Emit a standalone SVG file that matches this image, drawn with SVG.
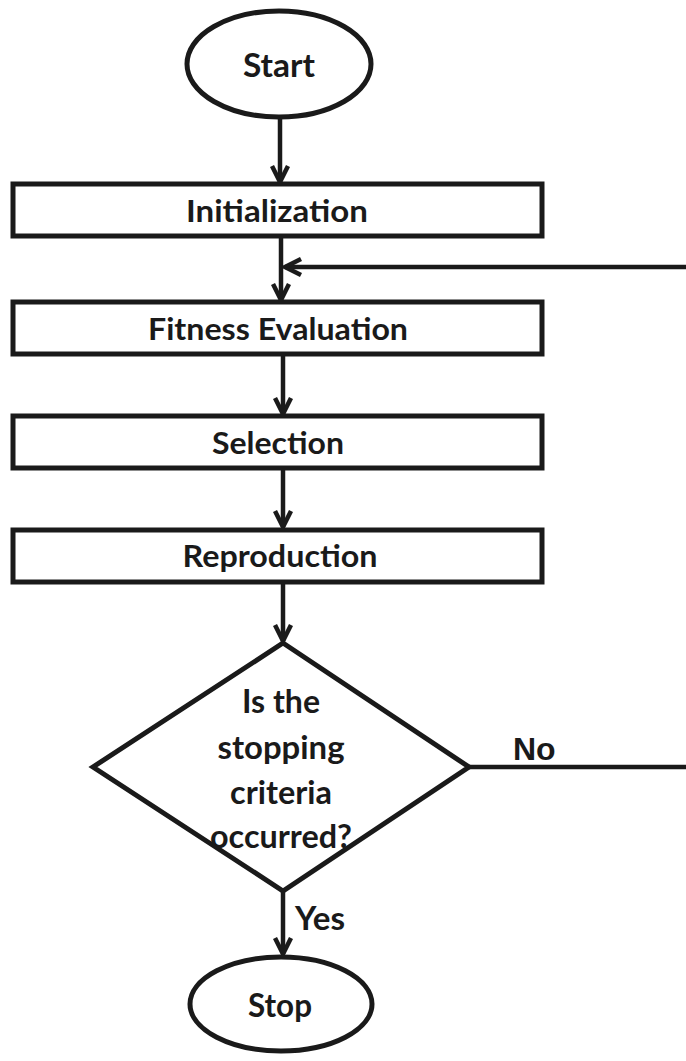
<svg xmlns="http://www.w3.org/2000/svg" width="686" height="1061" viewBox="0 0 686 1061">
  <style>
    .shape { fill: #fff; stroke: #1a1a1a; stroke-width: 5; }
    .line { fill: none; stroke: #1a1a1a; stroke-width: 4.5; }
    .lbl { font-family: Lato, "Open Sans", "Liberation Sans", sans-serif; font-weight: bold; fill: #1a1a1a; text-anchor: middle; }
    .box { font-size: 31px; }
    .dec { font-size: 33px; }
    .no { font-family: "Liberation Sans", Arial, sans-serif; font-weight: bold; font-size: 32px; fill: #1a1a1a; }
  </style>
  <defs>
    <marker id="arrow" viewBox="0 0 20 20" refX="18" refY="10" markerWidth="20" markerHeight="20" markerUnits="userSpaceOnUse" orient="auto">
      <path d="M2,2 L18,10 L2,18" fill="none" stroke="#1a1a1a" stroke-width="4.5" stroke-linejoin="miter"/>
    </marker>
  </defs>

  <rect width="686" height="1061" fill="#fff"/>

  <!-- connectors -->
  <g id="connectors">
    <line class="line" x1="280" y1="118" x2="280" y2="182" marker-end="url(#arrow)"/>
    <line class="line" x1="281" y1="236" x2="281" y2="300" marker-end="url(#arrow)"/>
    <line class="line" x1="283" y1="354" x2="283" y2="414" marker-end="url(#arrow)"/>
    <line class="line" x1="283" y1="468" x2="283" y2="527" marker-end="url(#arrow)"/>
    <line class="line" x1="283" y1="582" x2="283" y2="641" marker-end="url(#arrow)"/>
    <line class="line" x1="283" y1="891" x2="283" y2="954" marker-end="url(#arrow)"/>
    <!-- loop back from the decision to fitness evaluation -->
    <polyline class="line" points="469,767 686,767"/>
    <line class="line" x1="686" y1="267" x2="285" y2="267" marker-end="url(#arrow)"/>
    <text class="no" x="513" y="760">No</text>
    <text class="lbl dec" x="295" y="930" style="text-anchor:start" textLength="50" lengthAdjust="spacingAndGlyphs">Yes</text>
  </g>

  <g id="start">
    <ellipse class="shape" cx="279" cy="64" rx="92" ry="53"/>
    <text class="lbl dec" x="279" y="77" textLength="72" lengthAdjust="spacingAndGlyphs">Start</text>
  </g>

  <g id="initialization">
    <rect class="shape" x="13" y="184" width="529" height="52"/>
    <text class="lbl box" x="277" y="222" textLength="182" lengthAdjust="spacingAndGlyphs">Initialization</text>
  </g>

  <g id="fitness">
    <rect class="shape" x="13" y="302" width="529" height="52"/>
    <text class="lbl box" x="278" y="340" textLength="260" lengthAdjust="spacingAndGlyphs">Fitness Evaluation</text>
  </g>

  <g id="selection">
    <rect class="shape" x="13" y="416" width="529" height="52"/>
    <text class="lbl box" x="278" y="454" textLength="132" lengthAdjust="spacingAndGlyphs">Selection</text>
  </g>

  <g id="reproduction">
    <rect class="shape" x="13" y="530" width="529" height="52"/>
    <text class="lbl box" x="280" y="567" textLength="195" lengthAdjust="spacingAndGlyphs">Reproduction</text>
  </g>

  <g id="decision">
    <polygon class="shape" points="283,643 469,767 283,891 93,767"/>
    <text class="lbl dec" x="281" y="713" textLength="78" lengthAdjust="spacingAndGlyphs">Is the</text>
    <text class="lbl dec" x="281" y="759" textLength="127" lengthAdjust="spacingAndGlyphs">stopping</text>
    <text class="lbl dec" x="281" y="804" textLength="102" lengthAdjust="spacingAndGlyphs">criteria</text>
    <text class="lbl dec" x="281" y="848" textLength="142" lengthAdjust="spacingAndGlyphs">occurred?</text>
  </g>

  <g id="stop">
    <ellipse class="shape" cx="281" cy="1004" rx="91" ry="47"/>
    <text class="lbl dec" x="280" y="1017" textLength="64" lengthAdjust="spacingAndGlyphs">Stop</text>
  </g>
</svg>
